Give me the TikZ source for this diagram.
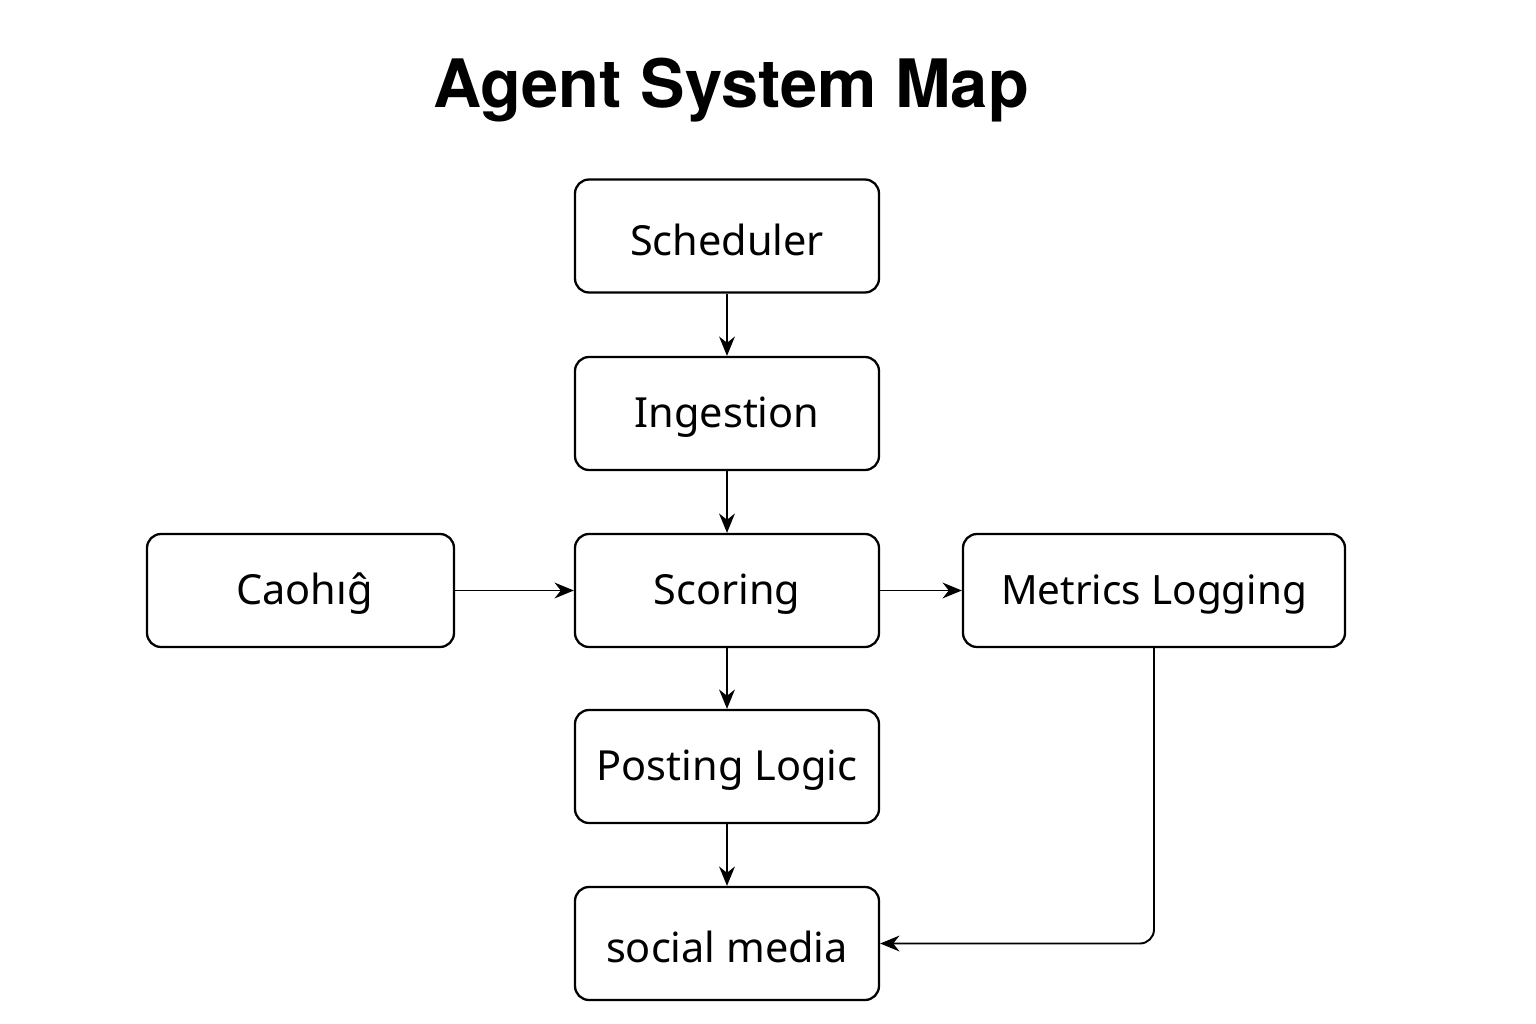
\documentclass[tikz,border=0pt]{standalone}
\usepackage{fontspec}
\setmainfont{Noto Sans}
\newfontfamily\titlefont{TeX Gyre Heros}
\usetikzlibrary{arrows.meta}
\begin{document}
\begin{tikzpicture}[x=0.02cm,y=-0.02cm,
  box/.style={draw=black,line width=1.3pt,rounded corners=8pt,minimum width=#1*0.02cm,minimum height=113*0.02cm,inner sep=0pt,font=\fontsize{23.6}{28}\selectfont},
  box/.default=304,
  lbl/.style={font=\fontsize{23.6}{28}\selectfont,inner sep=0pt},
  conn/.style={draw=black,line width=1.1pt,-{Stealth[length=11pt,width=9pt]}}]
\useasboundingbox[fill=white] (0,0) rectangle (1536,1024);
\node[font=\titlefont\bfseries\fontsize{38}{44}\selectfont] (title) at (731,90) {Agent System Map};
\node[box] (sched) at (727,236) {};
\node[box] (ingest) at (727,413.5) {};
\node[box] (score) at (727,590.5) {};
\node[box] (post) at (727,766.5) {};
\node[box] (social) at (727,943.5) {};
\node[box=307] (cache) at (300.5,590.5) {};
\node[box=382] (metrics) at (1154,590.5) {};
\node[lbl] (schedt) at ([yshift=-3.5*0.02cm]sched.center) {Scheduler};
\node[lbl] (ingestt) at ([yshift=-3.5*0.02cm]ingest.center) {Ingestion};
\node[lbl] (scoret) at ([yshift=-3.5*0.02cm]score.center) {Scoring};
\node[lbl] (postt) at ([yshift=-3.5*0.02cm]post.center) {Posting Logic};
\node[lbl] (socialt) at ([yshift=-3.5*0.02cm]social.center) {social media};
\node[lbl] (cachet) at ([xshift=4*0.02cm,yshift=-3.5*0.02cm]cache.center) {Caohıĝ};
\node[lbl,font=\fontsize{23}{28}\selectfont] (metricst) at ([yshift=-3.5*0.02cm]metrics.center) {Metrics Logging};
\draw[conn] (sched) -- (ingest);
\draw[conn] (ingest) -- (score);
\draw[conn] (score) -- (post);
\draw[conn] (post) -- (social);
\draw[conn] (cache) -- (score);
\draw[conn] (score) -- (metrics);
\draw[conn,rounded corners=8pt] (metrics.south) |- (social.east);
\end{tikzpicture}
\end{document}
